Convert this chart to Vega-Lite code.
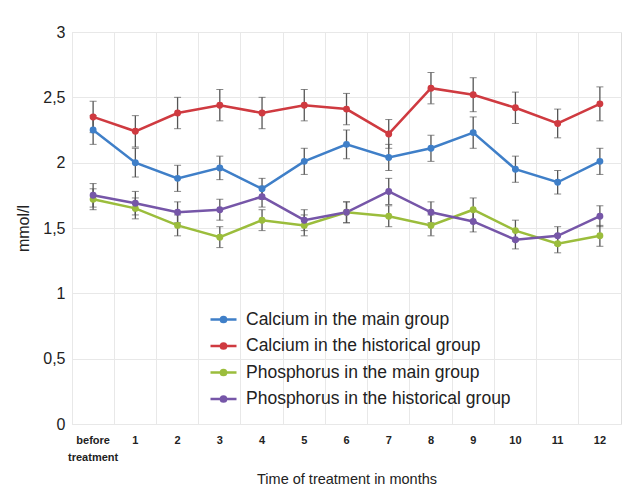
{
  "$schema": "https://vega.github.io/schema/vega-lite/v6.json",
  "width": 549,
  "height": 392,
  "autosize": "none",
  "padding": {"left": 72, "top": 32, "right": 20, "bottom": 77},
  "background": "white",
  "config": {
    "font": "Liberation Sans",
    "view": {"stroke": "#dedede"}
  },
  "data": {
    "values": [
      {"month": "before treatment", "series": "Calcium in the main group", "value": 2.25, "err": 0.11},
      {"month": "1", "series": "Calcium in the main group", "value": 2.00, "err": 0.11},
      {"month": "2", "series": "Calcium in the main group", "value": 1.88, "err": 0.10},
      {"month": "3", "series": "Calcium in the main group", "value": 1.96, "err": 0.09},
      {"month": "4", "series": "Calcium in the main group", "value": 1.80, "err": 0.08},
      {"month": "5", "series": "Calcium in the main group", "value": 2.01, "err": 0.10},
      {"month": "6", "series": "Calcium in the main group", "value": 2.14, "err": 0.11},
      {"month": "7", "series": "Calcium in the main group", "value": 2.04, "err": 0.10},
      {"month": "8", "series": "Calcium in the main group", "value": 2.11, "err": 0.10},
      {"month": "9", "series": "Calcium in the main group", "value": 2.23, "err": 0.12},
      {"month": "10", "series": "Calcium in the main group", "value": 1.95, "err": 0.10},
      {"month": "11", "series": "Calcium in the main group", "value": 1.85, "err": 0.09},
      {"month": "12", "series": "Calcium in the main group", "value": 2.01, "err": 0.10},
      {"month": "before treatment", "series": "Calcium in the historical group", "value": 2.35, "err": 0.12},
      {"month": "1", "series": "Calcium in the historical group", "value": 2.24, "err": 0.12},
      {"month": "2", "series": "Calcium in the historical group", "value": 2.38, "err": 0.12},
      {"month": "3", "series": "Calcium in the historical group", "value": 2.44, "err": 0.12},
      {"month": "4", "series": "Calcium in the historical group", "value": 2.38, "err": 0.12},
      {"month": "5", "series": "Calcium in the historical group", "value": 2.44, "err": 0.12},
      {"month": "6", "series": "Calcium in the historical group", "value": 2.41, "err": 0.12},
      {"month": "7", "series": "Calcium in the historical group", "value": 2.22, "err": 0.11},
      {"month": "8", "series": "Calcium in the historical group", "value": 2.57, "err": 0.12},
      {"month": "9", "series": "Calcium in the historical group", "value": 2.52, "err": 0.13},
      {"month": "10", "series": "Calcium in the historical group", "value": 2.42, "err": 0.12},
      {"month": "11", "series": "Calcium in the historical group", "value": 2.30, "err": 0.11},
      {"month": "12", "series": "Calcium in the historical group", "value": 2.45, "err": 0.13},
      {"month": "before treatment", "series": "Phosphorus in the main group", "value": 1.72, "err": 0.08},
      {"month": "1", "series": "Phosphorus in the main group", "value": 1.65, "err": 0.08},
      {"month": "2", "series": "Phosphorus in the main group", "value": 1.52, "err": 0.08},
      {"month": "3", "series": "Phosphorus in the main group", "value": 1.43, "err": 0.08},
      {"month": "4", "series": "Phosphorus in the main group", "value": 1.56, "err": 0.08},
      {"month": "5", "series": "Phosphorus in the main group", "value": 1.52, "err": 0.08},
      {"month": "6", "series": "Phosphorus in the main group", "value": 1.62, "err": 0.08},
      {"month": "7", "series": "Phosphorus in the main group", "value": 1.59, "err": 0.08},
      {"month": "8", "series": "Phosphorus in the main group", "value": 1.52, "err": 0.08},
      {"month": "9", "series": "Phosphorus in the main group", "value": 1.64, "err": 0.09},
      {"month": "10", "series": "Phosphorus in the main group", "value": 1.48, "err": 0.08},
      {"month": "11", "series": "Phosphorus in the main group", "value": 1.38, "err": 0.07},
      {"month": "12", "series": "Phosphorus in the main group", "value": 1.44, "err": 0.08},
      {"month": "before treatment", "series": "Phosphorus in the historical group", "value": 1.75, "err": 0.09},
      {"month": "1", "series": "Phosphorus in the historical group", "value": 1.69, "err": 0.09},
      {"month": "2", "series": "Phosphorus in the historical group", "value": 1.62, "err": 0.08},
      {"month": "3", "series": "Phosphorus in the historical group", "value": 1.64, "err": 0.08},
      {"month": "4", "series": "Phosphorus in the historical group", "value": 1.74, "err": 0.08},
      {"month": "5", "series": "Phosphorus in the historical group", "value": 1.56, "err": 0.08},
      {"month": "6", "series": "Phosphorus in the historical group", "value": 1.62, "err": 0.08},
      {"month": "7", "series": "Phosphorus in the historical group", "value": 1.78, "err": 0.10},
      {"month": "8", "series": "Phosphorus in the historical group", "value": 1.62, "err": 0.08},
      {"month": "9", "series": "Phosphorus in the historical group", "value": 1.55, "err": 0.08},
      {"month": "10", "series": "Phosphorus in the historical group", "value": 1.41, "err": 0.07},
      {"month": "11", "series": "Phosphorus in the historical group", "value": 1.44, "err": 0.07},
      {"month": "12", "series": "Phosphorus in the historical group", "value": 1.59, "err": 0.08}
    ]
  },
  "resolve": {"axis": {"x": "independent"}},
  "layer": [
    {
      "mark": {
        "type": "errorbar",
        "ticks": {"size": 7, "color": "#555555", "strokeWidth": 1.3},
        "rule": {"color": "#555555", "strokeWidth": 1.3}
      },
      "encoding": {
        "x": {
          "field": "month",
          "type": "ordinal",
          "sort": ["before treatment", "1", "2", "3", "4", "5", "6", "7", "8", "9", "10", "11", "12"],
          "scale": {"type": "band", "paddingInner": 0, "paddingOuter": 0},
          "axis": {
            "orient": "top",
            "grid": true,
            "gridColor": "#e8e8e8",
            "bandPosition": 0,
            "labels": false,
            "ticks": false,
            "domain": false,
            "title": null
          }
        },
        "y": {"field": "value", "type": "quantitative", "title": "mmol/l"},
        "yError": {"field": "err"}
      }
    },
    {
      "mark": {"type": "line", "strokeWidth": 2.5, "point": {"filled": true, "size": 48}},
      "encoding": {
        "x": {
          "field": "month",
          "type": "ordinal",
          "sort": ["before treatment", "1", "2", "3", "4", "5", "6", "7", "8", "9", "10", "11", "12"],
          "axis": {
            "orient": "bottom",
            "grid": false,
            "ticks": false,
            "domain": false,
            "labelAngle": 0,
            "labelFontWeight": "bold",
            "labelFontSize": 11,
            "labelColor": "#222222",
            "labelPadding": 10,
            "labelLineHeight": 17,
            "labelExpr": "datum.label == 'before treatment' ? ['before', 'treatment'] : datum.label",
            "title": "Time of treatment in months",
            "titleFontSize": 14.5,
            "titleFontWeight": "normal",
            "titleColor": "#222222",
            "titlePadding": 10
          }
        },
        "y": {
          "field": "value",
          "type": "quantitative",
          "title": "mmol/l",
          "scale": {"domain": [0, 3], "nice": false},
          "axis": {
            "values": [0, 0.5, 1, 1.5, 2, 2.5, 3],
            "labelExpr": "replace(format(datum.value, '~g'), '.', ',')",
            "grid": true,
            "gridColor": "#e8e8e8",
            "domain": false,
            "ticks": false,
            "labelFontSize": 16,
            "labelColor": "#222222",
            "labelPadding": 7,
            "titleFontSize": 16,
            "titleFontWeight": "normal",
            "titleColor": "#222222",
            "titlePadding": 11
          }
        },
        "color": {
          "field": "series",
          "type": "nominal",
          "scale": {
            "domain": ["Calcium in the main group", "Calcium in the historical group", "Phosphorus in the main group", "Phosphorus in the historical group"],
            "range": ["#3f7fc8", "#cf3a40", "#9bbd3c", "#7656a8"]
          },
          "legend": {
            "orient": "none",
            "legendX": 137,
            "legendY": 273,
            "title": null,
            "labelFontSize": 17.5,
            "labelColor": "#222222",
            "labelLimit": 400,
            "rowPadding": 3.5,
            "symbolType": "M-1,0L1,0M-0.2,0A0.2,0.2 0 1,0 0.2,0A0.2,0.2 0 1,0 -0.2,0",
            "symbolSize": 676,
            "symbolStrokeWidth": 2.5,
            "labelOffset": 8
          }
        }
      }
    }
  ]
}
